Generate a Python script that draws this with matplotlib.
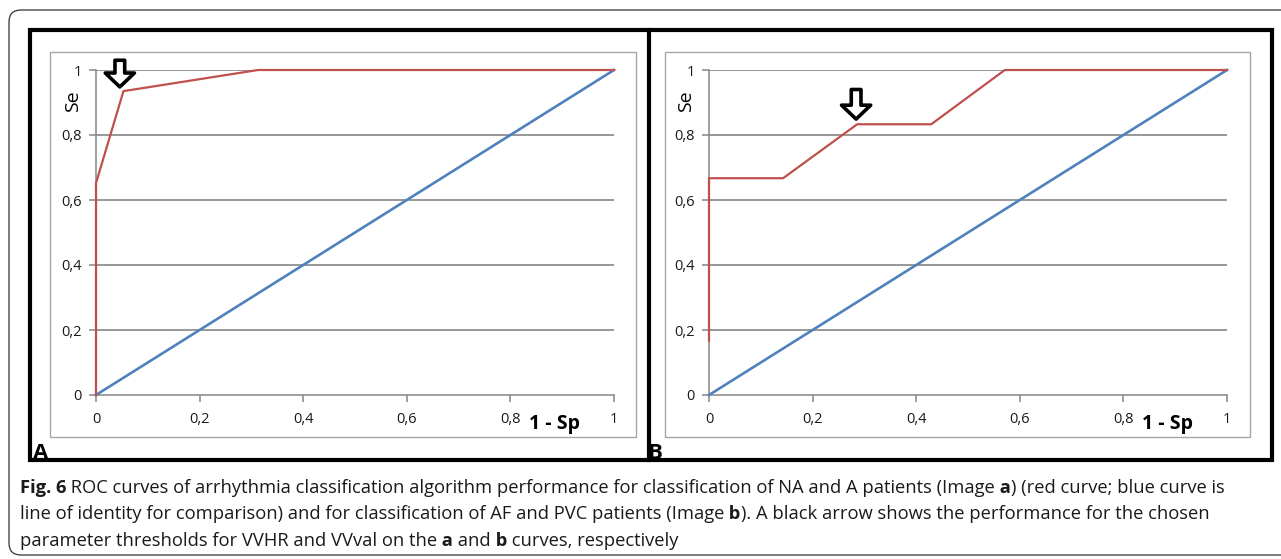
import matplotlib
matplotlib.use("Agg")
import matplotlib.pyplot as plt
from matplotlib.patches import Rectangle, FancyBboxPatch
from matplotlib.transforms import IdentityTransform

plt.rcParams['font.family'] = ['Open Sans', 'DejaVu Sans']

W, H = 1281, 559

# data
ticks = [0, 0.2, 0.4, 0.6, 0.8, 1]
tick_labels = ['0', '0,2', '0,4', '0,6', '0,8', '1']
diag_x = [0, 1]
diag_y = [0, 1]

roc_a_x = [0, 0, 0.053, 0.313, 1]
roc_a_y = [0, 0.652, 0.935, 1, 1]
arrow_a = (0.046, 0.948, 1.03)   # x, tip y, tail y

roc_b_x = [0, 0, 0.143, 0.286, 0.429, 0.571, 1]
roc_b_y = [0.167, 0.667, 0.667, 0.833, 0.833, 1, 1]
arrow_b = (0.284, 0.849, 0.94)

red = '#c0504d'
blue = '#4f81bd'
grid_gray = '#868686'

fig = plt.figure(figsize=(W / 100, H / 100), dpi=100)


def fig_rect(x0, y0, x1, y1):
    # pixel box (top-left origin) -> figure fraction rect
    return [x0 / W, 1 - y1 / H, (x1 - x0) / W, (y1 - y0) / H]


def panel(x0, xs, ys, arrow, letter, frame):
    # gray chart-area frame
    fx0, fy0, fx1, fy1 = frame
    fig.add_artist(Rectangle((fx0 / W, 1 - fy1 / H), (fx1 - fx0) / W, (fy1 - fy0) / H,
                             transform=fig.transFigure, fill=False, ec='#a6a6a6', lw=1.0))
    ax = fig.add_axes(fig_rect(x0, 70, x0 + 518, 395))
    ax.set_xlim(0, 1)
    ax.set_ylim(0, 1)
    for s in ['top', 'right']:
        ax.spines[s].set_visible(False)
    for s in ['left', 'bottom']:
        ax.spines[s].set_color(grid_gray)
        ax.spines[s].set_linewidth(1.1)
    ax.set_xticks(ticks)
    ax.set_xticklabels(tick_labels)
    ax.set_yticks(ticks)
    ax.set_yticklabels(tick_labels)
    ax.tick_params(direction='out', length=5, width=1.1, color=grid_gray,
                   labelsize=10.5, labelcolor='#1a1a1a')
    ax.tick_params(axis='x', pad=7)
    ax.tick_params(axis='y', pad=5)
    for t in ticks[1:]:
        ax.axhline(t, color=grid_gray, lw=1.2, zorder=1)
    ax.plot(diag_x, diag_y, color=blue, lw=1.9, zorder=3, clip_on=False)
    ax.plot(xs, ys, color=red, lw=1.6, zorder=4, clip_on=False)
    ax.annotate('', xy=(arrow[0], arrow[1]), xytext=(arrow[0], arrow[2]),
                arrowprops=dict(arrowstyle='simple,head_width=2.1,head_length=1.0,tail_width=0.7',
                                mutation_scale=10, fc='white', ec='black', lw=2.6,
                                shrinkA=0, shrinkB=0),
                annotation_clip=False, zorder=6)
    ax.text(-0.045, 0.905, 'Se', rotation=90, ha='center', va='center',
            transform=ax.transAxes, fontsize=14)
    ax.text(0.886, -0.09, '1 - Sp', ha='center', va='center',
            transform=ax.transAxes, fontsize=14, fontweight='bold')
    fig.text((fx0 - 17) / W, 1 - 459 / H, letter, fontsize=16, fontweight='bold',
             ha='left', va='baseline')
    return ax


panel(96, roc_a_x, roc_a_y, arrow_a, 'A', (50, 52, 636, 437))
panel(709, roc_b_x, roc_b_y, arrow_b, 'B', (665, 52, 1250, 437))

# black panel frames
fig.add_artist(Rectangle((30 / W, 1 - 460 / H), (1272 - 30) / W, (460 - 30) / H,
                         transform=fig.transFigure, fill=False, ec='black', lw=3.0))
fig.add_artist(plt.Line2D([649 / W, 649 / W], [1 - 460 / H, 1 - 30 / H],
                          transform=fig.transFigure, color='black', lw=3.0))

# outer rounded frame
fig.add_artist(FancyBboxPatch((9, 4), 1300, H - 14, boxstyle='round,pad=0,rounding_size=12',
                              transform=IdentityTransform(), fill=False, ec='#333333', lw=0.9))

# caption with bold runs
lines = [
    [('Fig. 6', 'bold'),
     (' ROC curves of arrhythmia classification algorithm performance for classification of NA and A patients (Image', 'normal'),
     (' a', 'bold'), (') (red curve; blue curve is', 'normal')],
    [('line of identity for comparison) and for classification of AF and PVC patients (Image', 'normal'),
     (' b', 'bold'), ('). A black arrow shows the performance for the chosen', 'normal')],
    [('parameter thresholds for VVHR and VVval on the', 'normal'), (' a', 'bold'),
     (' and', 'normal'), (' b', 'bold'), (' curves, respectively', 'normal')],
]
line_y = [493, 519, 546]
renderer = fig.canvas.get_renderer()
for runs, yy in zip(lines, line_y):
    x = 20
    for s, w in runs:
        t = fig.text(x / W, 1 - yy / H, s, fontsize=13.2, fontweight=w,
                     ha='left', va='baseline', color='#1a1a1a')
        bb = t.get_window_extent(renderer=renderer)
        x = bb.x1

fig.savefig('out.png', dpi=100)
